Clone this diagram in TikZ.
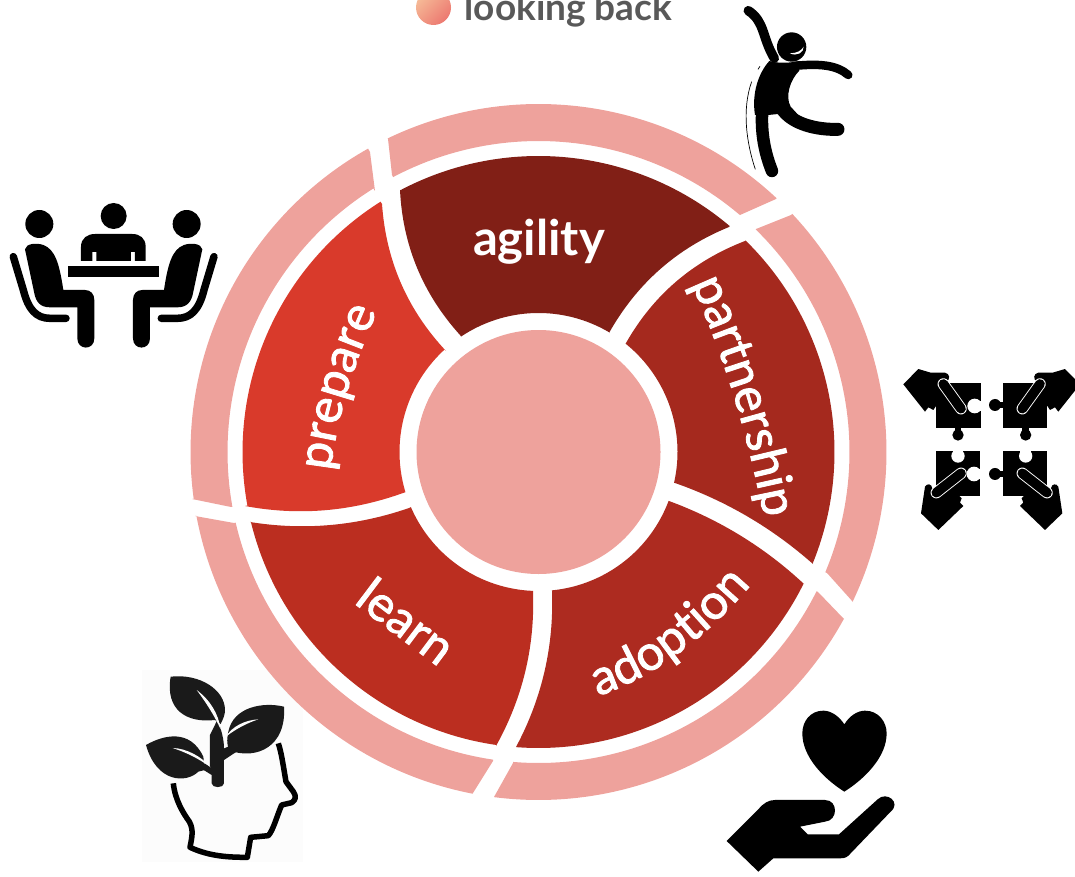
\documentclass[tikz,border=0pt]{standalone}
\usepackage{fontspec}
\setmainfont{Lato}
\newfontfamily\medfont[FakeBold=1.8]{Lato}
\usetikzlibrary{decorations.text}
\definecolor{ringc}{HTML}{EEA29C}
\definecolor{agilityc}{HTML}{811F16}
\definecolor{partnerc}{HTML}{A5291E}
\definecolor{adoptc}{HTML}{AD2B20}
\definecolor{learnc}{HTML}{BB2E20}
\definecolor{preparec}{HTML}{D93A2B}
\definecolor{titlec}{HTML}{595959}
\definecolor{leafc}{HTML}{1A1A1A}
\definecolor{iconbg}{HTML}{FCFCFC}
\definecolor{dotA}{HTML}{F6BC98}
\definecolor{dotB}{HTML}{EC7870}
\def\angxy(#1,#2)#3{\pgfmathsetmacro#3{atan2(#2-452,#1-538.5)}}
% colour, R, r, A, B, C, D, connector B-C, connector D-A
\newcommand\sector[9]{%
  \angxy#4\aA \angxy#5\aB \angxy#6\aC \angxy#7\aD
  \pgfmathsetmacro\aB{\aB<\aA ? \aB+360 : \aB}%
  \pgfmathsetmacro\aD{\aD>\aC ? \aD-360 : \aD}%
  \fill[#1] #4 -- plot[domain=\aA:\aB,samples=70] ({538.5+#2*cos(\x)},{452+#2*sin(\x)})
     -- #5 #8 #6 -- plot[domain=\aC:\aD,samples=50] ({538.5+#3*cos(\x)},{452+#3*sin(\x)})
     -- #7 #9 #4 -- cycle;}
\tikzset{
  wheeltext/.style={font=\medfont\fontsize{49}{49}\selectfont,text=white},
  curvedlabel/.style={decorate,decoration={text along path,text align=center,
     text={|\medfont\fontsize{49}{49}\selectfont\color{white}|#1}}},
  zoomA/.style={shift={(400pt,0pt)},x=0.3333pt,y=-0.3333pt},
  zoomB/.style={shift={(0pt,-190pt)},x=0.3333pt,y=-0.3333pt},
  zoomC/.style={shift={(890pt,-350pt)},x=0.3333pt,y=-0.3333pt},
  zoomD/.style={shift={(130pt,-660pt)},x=0.3333pt,y=-0.3333pt},
  zoomE/.style={shift={(710pt,-700pt)},x=0.3333pt,y=-0.3333pt},
  limb/.style={line cap=round,line join=round,black},
}
\begin{document}
\begin{tikzpicture}[x=1pt,y=-1pt]
\useasboundingbox (0,0) rectangle (1075,877);
\clip (0,0) rectangle (1075,877);
% plant-head background sits under the ring
\begin{scope}[zoomD]
\fill[iconbg] (36,30) rectangle (519,606);
\end{scope}
% outer ring
\sector{ringc}{348}{311}{(388,139)}{(776,199)}{(740,215)}{(392,175)}{--}{--}
\sector{ringc}{348}{311}{(791,215)}{(853,602)}{(827,573)}{(756,229)}{--}{--}
\sector{ringc}{348}{311}{(844,619)}{(494,797)}{(513,763)}{(818,592)}{--}{--}
\sector{ringc}{348}{311}{(473,793)}{(195,516)}{(234,523)}{(493,761)}{--}{--}
\sector{ringc}{348}{311}{(192,499)}{(370,152)}{(375,191)}{(231,507)}{--}{--}
% wedges
\sector{agilityc}{296}{139}{(400,190)}{(729,227)}{(609,333)}{(460,335)}{.. controls (676.7,248.3) and (636.7,283.7) ..}{.. controls (422.7,293.7) and (402.7,245.3) ..}
\sector{partnerc}{296}{139}{(745,241)}{(813,564)}{(675,483)}{(626,343)}{.. controls (772.3,528) and (726.3,501) ..}{.. controls (653.3,295) and (693,261) ..}
\sector{adoptc}{296}{139}{(804,584)}{(516,747)}{(552,591)}{(669,501)}{.. controls (542,698.3) and (554,646.3) ..}{.. controls (719.7,519.7) and (764.7,547.3) ..}
\sector{learnc}{296}{139}{(496,746)}{(250,522)}{(409,508)}{(533,592)}{.. controls (304,530.7) and (357,526) ..}{.. controls (535,646.7) and (522.7,698) ..}
\sector{preparec}{296}{139}{(245,506)}{(382,204)}{(446,351)}{(403,493)}{.. controls (386,260.7) and (407.3,309.7) ..}{.. controls (351,511.7) and (298.3,516) ..}
% centre
\fill[ringc] (538.5,452) circle[radius=122];
% labels
\node[anchor=base,text=white,font=\fontsize{49}{49}\selectfont\bfseries] (agilitylabel) at (539,255) {agility};
\node[wheeltext,anchor=base,rotate=-37] (learnlabel) at (396,635) {learn};
\path[curvedlabel=partnership] (692,285) .. controls (725,358) and (747,432) .. (764,517);
\path[curvedlabel=adoption] (592,698) .. controls (650,680) and (705,640) .. (755,580);
\path[curvedlabel=prepare] (330,478) .. controls (335,420) and (355,360) .. (380,305);
% title
\shade[left color=dotA,right color=dotB,shading angle=45] (433.5,7.5) circle[radius=17.5];
\node[anchor=base west,text=titlec,font=\fontsize{37}{37}\selectfont\bfseries] (titlelabel) at (461,20.7) {looking back};
% jumping figure
\begin{scope}[zoomA]
\fill (1175,141) circle[radius=44];
\fill[white] (1170,160) .. controls (1190,160) and (1205,152) .. (1211,140) .. controls (1212,158) and (1190,170) .. (1170,160) -- cycle;
\draw[limb,line width=9.5pt] (1045,32) .. controls (1095,65) and (1085,110) .. (1123,175);
\draw[limb,line width=8.5pt] (1180,198) .. controls (1260,190) and (1310,195) .. (1345,225);
\draw[limb,line width=12.5pt] (1087,330) .. controls (1082,400) and (1095,460) .. (1116,513);
\draw[limb,line width=13pt] (1145,325) .. controls (1175,372) and (1250,390) .. (1314,388);
\fill (1108,183) .. controls (1130,190) and (1170,190) .. (1197,183) -- (1198,212) .. controls (1170,240) and (1155,290) .. (1172,320) -- (1195,345) -- (1135,342) -- (1105,345) -- (1065,345) .. controls (1055,280) and (1075,220) .. (1108,183) -- cycle;
\draw[line width=0.7pt] (1055,245) .. controls (1025,330) and (1040,430) .. (1066,508);
\draw[line width=0.7pt] (1080,199) -- (1074,208);
\end{scope}
% meeting
\begin{scope}[zoomB]
\fill (341,78) circle[radius=39];
\fill (118,102) circle[radius=42];
\fill (243,213) -- (243,170) .. controls (243,145) and (262,132) .. (285,132) -- (397,132) .. controls (420,132) and (437,145) .. (437,170) -- (437,213) -- (405,213) -- (405,186) -- (393,186) -- (393,213) -- (289,213) -- (289,186) -- (277,186) -- (277,213) -- cycle;
\fill (205,228) rectangle (478,262);
\fill (560,102) circle[radius=42];
\end{scope}
\foreach \sc/\sh in {1/0,-1/682}{
\begin{scope}[zoomB,shift={(\sh,0)},xscale=\sc]
\fill (75,178) .. controls (78,160) and (110,158) .. (130,165) .. controls (165,178) and (178,220) .. (190,300) -- (255,300) .. controls (272,300) and (283,312) .. (283,330) -- (283,445) .. controls (283,482) and (232,482) .. (232,445) -- (232,352) -- (150,352) .. controls (120,352) and (108,335) .. (103,310) -- cycle;
\draw[limb,line width=7.5pt] (40,200) -- (70,300) .. controls (85,360) and (110,385) .. (150,385) -- (198,385);
\end{scope}}
% puzzle
\begin{scope}[zoomC]
% top-left piece
\fill (138,100) rectangle (272,235);
\fill (204,255) circle[radius=17];
\fill (194,230) rectangle (214,250);
\fill[white] (254,168) circle[radius=22];
\fill[white] (254,152) rectangle (275,184);
% top-right piece
\fill (340,100) rectangle (472,235);
\fill (315,165) circle[radius=18];
\fill (325,155) rectangle (345,175);
\fill (407,255) circle[radius=17];
\fill (397,230) rectangle (417,250);
% bottom-left piece
\fill (138,303) rectangle (270,437);
\fill[white] (204,318) circle[radius=20];
\fill[white] (188,298) rectangle (220,318);
\fill[white] (252,372) circle[radius=22];
\fill[white] (252,356) rectangle (275,388);
% bottom-right piece
\fill (340,303) rectangle (472,437);
\fill (315,372) circle[radius=18];
\fill (325,362) rectangle (345,382);
\fill[white] (407,318) circle[radius=20];
\fill[white] (391,298) rectangle (423,318);
\end{scope}
\foreach \sc/\sh in {1/0,-1/610}{
\begin{scope}[zoomC,shift={(\sh,0)},xscale=\sc]
% upper hand
\fill (40,103) -- (85,57) -- (122,68) -- (165,68) .. controls (180,70) and (182,90) .. (168,95) -- (145,100) -- (175,165) -- (150,160) -- (138,168) -- (130,180) -- (115,172) -- (105,185) -- cycle;
\draw[line cap=round,white,line width=11.5pt] (160,102) -- (213,176);
\draw[line cap=round,black,line width=9.7pt] (160,102) -- (213,176);
% lower hand
\fill (93,490) -- (105,410) .. controls (110,400) and (125,400) .. (127,415) -- (132,435) -- (195,420) -- (205,435) -- (215,445) -- (210,458) -- (220,468) -- (145,540) -- cycle;
\draw[line cap=round,white,line width=11.5pt] (139,428) -- (213,370);
\draw[line cap=round,black,line width=9.7pt] (139,428) -- (213,370);
\end{scope}}
% plant head
\begin{scope}[zoomD]
\draw[black,line width=5.5pt,line join=round,line cap=butt] (130,370) .. controls (135,420) and (160,460) .. (178,485) .. controls (192,510) and (185,535) .. (180,562) .. controls (240,590) and (300,592) .. (352,592) -- (362,532) -- (415,527) .. controls (430,510) and (440,470) .. (455,435) -- (485,428) .. controls (497,420) and (500,410) .. (490,395) -- (468,365) .. controls (460,320) and (455,280) .. (445,250);
\fill[leafc] (122,50) .. controls (210,40) and (285,90) .. (285,150) .. controls (285,165) and (280,175) .. (272,192) -- (255,180) .. controls (170,190) and (105,150) .. (122,50) -- cycle;
\fill[leafc] (462,140) .. controls (400,125) and (310,140) .. (295,215) .. controls (290,240) and (290,260) .. (300,272) .. controls (380,300) and (470,260) .. (462,140) -- cycle;
\fill[leafc] (48,255) .. controls (100,225) and (180,205) .. (220,290) -- (225,330) -- (205,335) .. controls (170,370) and (80,370) .. (48,255) -- cycle;
\fill[leafc] (262,180) .. controls (275,210) and (282,240) .. (282,265) -- (282,370) .. controls (282,385) and (245,385) .. (245,370) -- (245,345) -- (205,320) -- (225,310) -- (240,320) -- (240,225) -- cycle;
\fill[leafc] (270,270) -- (320,250) -- (320,275) -- (282,300) -- cycle;
\fill[iconbg] (200,90) .. controls (240,120) and (265,160) .. (272,208) .. controls (255,170) and (230,130) .. (200,90) -- cycle;
\fill[iconbg] (385,178) .. controls (345,180) and (305,200) .. (288,230) .. controls (320,205) and (350,190) .. (385,178) -- cycle;
\fill[iconbg] (128,264) .. controls (170,265) and (215,290) .. (242,322) .. controls (205,295) and (170,278) .. (128,264) -- cycle;
\end{scope}
% heart and hand
\begin{scope}[zoomE]
\fill (403,73) .. controls (385,45) and (360,32) .. (340,32) .. controls (300,32) and (277,65) .. (277,100) .. controls (277,170) and (340,235) .. (403,275) .. controls (466,235) and (530,170) .. (530,100) .. controls (530,65) and (505,32) .. (465,32) .. controls (445,32) and (420,45) .. (403,73) -- cycle;
\fill (50,423) -- (145,328) .. controls (160,310) and (175,300) .. (195,300) -- (345,300) .. controls (385,300) and (385,362) .. (345,365) -- (270,380) -- (293,403) -- (387,403) -- (503,298) .. controls (530,272) and (575,308) .. (542,335) -- (422,460) .. controls (412,472) and (405,475) .. (390,475) -- (190,475) -- (145,515) -- cycle;
\end{scope}
\end{tikzpicture}
\end{document}
